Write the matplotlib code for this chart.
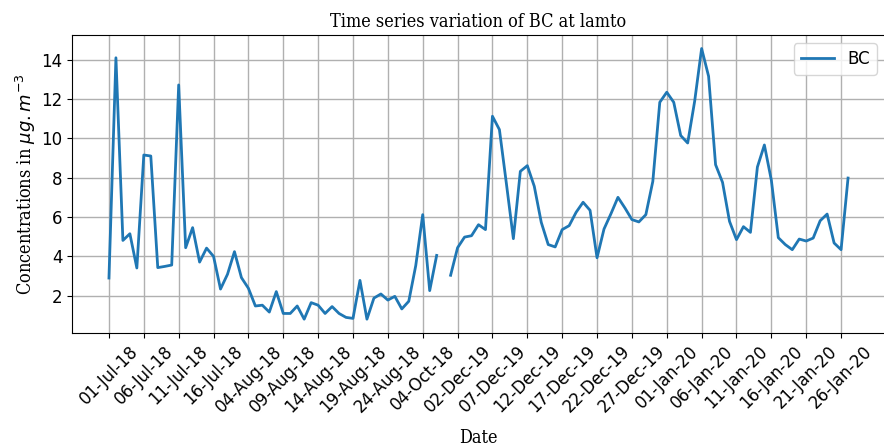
import numpy as np
import matplotlib
matplotlib.use("Agg")
import matplotlib.pyplot as plt

# BC concentration series, one value per sample (NaN = missing)
bc = [2.90, 14.09, 4.81, 5.15, 3.41, 9.15, 9.10, 3.43, 3.49, 3.56,
      12.71, 4.44, 5.46, 3.71, 4.42, 4.00, 2.34, 3.09, 4.24, 2.92,
      2.38, 1.48, 1.52, 1.17, 2.21, 1.10, 1.10, 1.48, 0.81, 1.65,
      1.52, 1.10, 1.45, 1.10, 0.90, 0.85, 2.78, 0.81, 1.88, 2.09,
      1.78, 1.97, 1.33, 1.72, 3.53, 6.12, 2.26, 4.05, np.nan, 3.04,
      4.44, 4.98, 5.05, 5.61, 5.36, 11.12, 10.44, 7.70, 4.90, 8.32,
      8.61, 7.56, 5.73, 4.60, 4.48, 5.36, 5.56, 6.24, 6.75, 6.34,
      3.93, 5.39, 6.17, 7.00, 6.46, 5.87, 5.75, 6.12, 7.81, 11.83,
      12.34, 11.83, 10.14, 9.76, 11.88, 14.56, 13.15, 8.66, 7.76, 5.78,
      4.85, 5.51, 5.22, 8.54, 9.66, 7.87, 4.95, 4.60, 4.34, 4.88,
      4.78, 4.93, 5.81, 6.15, 4.68, 4.34, 7.98]

# date label shown every 5th sample
tick_labels = ["01-Jul-18", "06-Jul-18", "11-Jul-18", "16-Jul-18", "04-Aug-18",
               "09-Aug-18", "14-Aug-18", "19-Aug-18", "24-Aug-18", "04-Oct-18",
               "02-Dec-19", "07-Dec-19", "12-Dec-19", "17-Dec-19", "22-Dec-19",
               "27-Dec-19", "01-Jan-20", "06-Jan-20", "11-Jan-20", "16-Jan-20",
               "21-Jan-20", "26-Jan-20"]
tick_step = 5

x = np.arange(len(bc))
serif = dict(family="DejaVu Serif", fontsize=13, fontstretch="condensed")

fig = plt.figure(figsize=(8.84, 4.47), dpi=100)
ax = fig.add_axes([72/884, 1-332.7/447, 813/884, (332.7-35)/447])
ax.plot(x, bc, color="#1f77b4", lw=2, label="BC")
ax.set_xticks(x[::tick_step][:len(tick_labels)])
ax.set_xticklabels(tick_labels, rotation=45, fontsize=12)
ax.tick_params(axis="y", labelsize=12)
ax.grid(True, color="#b0b0b0", lw=1)
ax.set_title("Time series variation of BC at lamto", **serif)
ax.set_xlabel("Date", labelpad=9, **serif)
ax.set_ylabel(r"Concentrations in $\mu g.m^{-3}$", labelpad=2, **serif)
ax.legend(loc="upper right", fontsize=12)
fig.savefig("out.png", dpi=100)
